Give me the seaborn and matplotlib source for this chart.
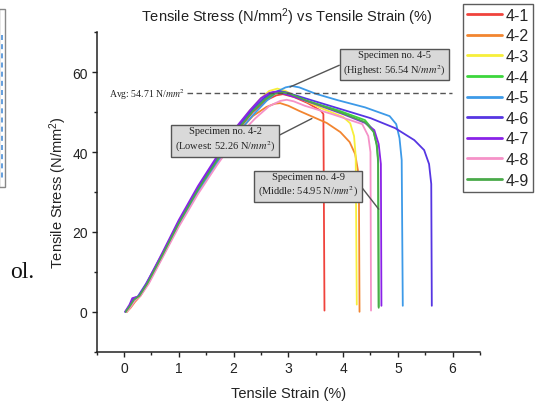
import matplotlib
matplotlib.use("Agg")
import matplotlib.pyplot as plt
import seaborn as sns
import pandas as pd
from matplotlib.ticker import MultipleLocator
from matplotlib.patches import Rectangle
from matplotlib.lines import Line2D

# ---------------- data ----------------
specimens = ["4-1", "4-2", "4-3", "4-4", "4-5", "4-6", "4-7", "4-8", "4-9"]
colors = ["#f0433c", "#f28530", "#f7ef3a", "#3cd63c", "#3d9ae8",
          "#5636e2", "#8a22e8", "#f592c8", "#4aaa4a"]

strain_4_1 = [0.05, 0.12, 0.2, 0.3, 0.45, 0.7, 1.0, 1.35, 1.7, 2.05, 2.35, 2.6, 2.78, 2.9, 3.1, 3.35, 3.6, 3.64, 3.66]
stress_4_1 = [0, 1.5, 3, 4.2, 7.5, 14, 22, 30.5, 38, 45, 50, 53, 54.2, 54.5, 53.8, 52.3, 50.3, 49.5, 0.3]

strain_4_2 = [0.05, 0.12, 0.2, 0.3, 0.45, 0.7, 1.0, 1.35, 1.7, 2.05, 2.35, 2.6, 2.75, 2.85, 3.0, 3.2, 3.45, 3.7, 3.95, 4.12, 4.22, 4.27, 4.29, 4.3]
stress_4_2 = [0, 1, 2.5, 4, 7.3, 13.8, 21.8, 30.2, 37.6, 44.5, 49, 51.3, 52.1, 52.26, 51.6, 50.3, 48.8, 47.3, 45, 42.5, 39.5, 35.5, 28, 0]

strain_4_3 = [0.05, 0.1, 0.18, 0.28, 0.42, 0.7, 1.0, 1.35, 1.7, 2.05, 2.3, 2.5, 2.65, 2.8, 2.95, 3.2, 3.6, 4.0, 4.13, 4.2, 4.23, 4.25]
stress_4_3 = [0, 1.2, 3, 4, 7, 14.5, 22.5, 31, 38.5, 46, 50.5, 53.5, 55.3, 55.9, 55.3, 53.5, 51, 48.8, 47.2, 44, 39, 1.8]

strain_4_4 = [0.03, 0.1, 0.18, 0.28, 0.42, 0.7, 1.0, 1.35, 1.7, 2.05, 2.35, 2.55, 2.72, 2.85, 3.0, 3.3, 3.9, 4.4, 4.55, 4.61, 4.64, 4.65]
stress_4_4 = [0, 1.3, 3, 4, 7, 14.3, 22.3, 30.8, 38.2, 45.5, 50.5, 53.2, 54.8, 55.2, 54.6, 53, 50.5, 48, 45.5, 42, 38, 1.3]

strain_4_5 = [0.03, 0.1, 0.18, 0.28, 0.42, 0.7, 1.0, 1.35, 1.7, 2.05, 2.35, 2.6, 2.8, 2.95, 3.07, 3.2, 3.5, 3.9, 4.4, 4.85, 4.97, 5.03, 5.07, 5.09]
stress_4_5 = [0, 1.3, 3, 4, 6.8, 13.8, 21.8, 30, 37.3, 44.3, 49.2, 52.8, 55.2, 56.2, 56.54, 56.2, 54.6, 53, 51.2, 49, 47, 43.5, 38, 1.5]

strain_4_6 = [0.02, 0.1, 0.17, 0.25, 0.4, 0.7, 1.0, 1.35, 1.7, 2.05, 2.35, 2.55, 2.7, 2.82, 2.95, 3.3, 3.9, 4.5, 4.95, 5.3, 5.48, 5.57, 5.61, 5.62]
stress_4_6 = [0, 1.5, 3.3, 3.8, 7, 14.5, 22.5, 31, 38.5, 45.8, 50.8, 53.5, 54.9, 55.3, 55, 53.5, 51, 48.5, 46, 43, 40.5, 37, 32, 1.5]

strain_4_7 = [0.02, 0.1, 0.15, 0.2, 0.28, 0.4, 0.7, 1.0, 1.35, 1.7, 2.05, 2.3, 2.5, 2.65, 2.75, 2.9, 3.2, 3.6, 4.0, 4.4, 4.57, 4.65, 4.69, 4.7]
stress_4_7 = [0, 1.8, 3.4, 3.6, 3.9, 6.8, 14.8, 23, 31.5, 39, 46.3, 50.5, 53.5, 54.8, 55.1, 54.7, 53.4, 51.5, 49.5, 47.3, 45.5, 42, 37, 1.5]

strain_4_8 = [0.05, 0.12, 0.2, 0.3, 0.45, 0.7, 1.0, 1.35, 1.7, 2.05, 2.4, 2.65, 2.85, 2.97, 3.1, 3.3, 3.8, 4.35, 4.46, 4.5, 4.51]
stress_4_8 = [0, 1.2, 2.8, 4, 7, 13.5, 21.3, 29.5, 36.8, 43.5, 48.5, 51.5, 52.8, 53.1, 52.7, 51.6, 49.5, 47, 44, 40, 0.3]

strain_4_9 = [0.03, 0.1, 0.18, 0.28, 0.42, 0.7, 1.0, 1.35, 1.7, 2.05, 2.35, 2.58, 2.75, 2.9, 3.05, 3.35, 3.9, 4.4, 4.56, 4.62, 4.64, 4.65]
stress_4_9 = [0, 1.3, 3, 4, 7, 14.2, 22.2, 30.6, 38, 45.2, 50.2, 53.2, 54.6, 54.95, 54.5, 52.8, 50.2, 47.5, 45, 41.5, 37, 1.0]

avg_stress = 54.71
xticks = [0, 1, 2, 3, 4, 5, 6]
yticks = [0, 20, 40, 60]

strains = [strain_4_1, strain_4_2, strain_4_3, strain_4_4, strain_4_5,
           strain_4_6, strain_4_7, strain_4_8, strain_4_9]
stresses = [stress_4_1, stress_4_2, stress_4_3, stress_4_4, stress_4_5,
            stress_4_6, stress_4_7, stress_4_8, stress_4_9]

frames = []
for name, s, t in zip(specimens, strains, stresses):
    frames.append(pd.DataFrame({"strain": s, "stress": t, "specimen": name}))
df = pd.concat(frames, ignore_index=True)

# ---------------- style ----------------
sns.set_style("ticks")
plt.rcParams["font.family"] = ["Liberation Sans", "DejaVu Sans"]
plt.rcParams["mathtext.fontset"] = "custom"
plt.rcParams["mathtext.rm"] = "Liberation Sans"
plt.rcParams["mathtext.it"] = "Liberation Sans:italic"

fig = plt.figure(figsize=(5.36, 4.06), dpi=100)
ax = fig.add_axes([0.1804, 0.1313, 0.8955 - 0.1804, 0.918 - 0.1313])

palette = dict(zip(specimens, colors))
sns.lineplot(data=df, x="strain", y="stress", hue="specimen", palette=palette,
             sort=False, estimator=None, linewidth=1.3, ax=ax)

ax.set_xlim(-0.5, 6.5)
ax.set_ylim(-10, 70)
ax.set_xticks(xticks)
ax.set_yticks(yticks)
ax.xaxis.set_minor_locator(MultipleLocator(0.5))
ax.yaxis.set_minor_locator(MultipleLocator(10))
ax.tick_params(which="major", direction="out", length=3.5, width=1, labelsize=10,
               color="#222222", labelcolor="#222222", pad=3)
ax.tick_params(which="minor", direction="out", length=2, width=1, color="#222222")
sns.despine(ax=ax)
for sp in ["left", "bottom"]:
    ax.spines[sp].set_linewidth(1.1)
    ax.spines[sp].set_color("#222222")

ax.set_xlabel("Tensile Strain (%)", fontsize=10.5, color="#222222", labelpad=8)
ax.set_ylabel("Tensile Stress (N/mm$^2$)", fontsize=10.5, color="#222222", labelpad=2)
fig.text(0.535, 0.957, "Tensile Stress (N/mm$^2$) vs Tensile Strain (%)",
         ha="center", va="center", fontsize=10.5, color="#222222")

# legend
handles, labels = ax.get_legend_handles_labels()
if ax.get_legend() is not None:
    ax.get_legend().remove()
for h in handles:
    h.set_linewidth(2)
leg = fig.legend(handles, labels, loc="upper left", bbox_to_anchor=(0.864, 0.988),
                 bbox_transform=fig.transFigure, borderaxespad=0, fontsize=11.5,
                 handlelength=2.2, handletextpad=0.2, borderpad=0.25,
                 labelspacing=0.35, frameon=True, fancybox=False)
leg.get_frame().set_edgecolor("#333333")
leg.get_frame().set_linewidth(1)

# average line and annotations
ax.hlines(avg_stress, 1.15, 5.99, colors="#555555", linestyles=(0, (4, 2.5)), linewidth=1)
ax.text(-0.28, avg_stress, "Avg: 54.71 N/$mm^2$", ha="left", va="center",
        fontsize=7, family="Liberation Serif", math_fontfamily="stix", color="#222222")

box = dict(boxstyle="square,pad=0.35", fc="#d9d9d9", ec="#555555", lw=1)
ann_kw = dict(ha="center", va="center", fontsize=7.5, family="Liberation Serif",
              color="#222222", bbox=box, linespacing=1.3, math_fontfamily="stix")

ax.annotate("Specimen no. 4-5\n(Highest: 56.54 N/$mm^2$)", xy=(3.03, 56.3),
            xytext=(4.94, 62.2),
            arrowprops=dict(arrowstyle="-", color="#555555", lw=1, relpos=(0, 0.5),
                            shrinkA=0, shrinkB=0), **ann_kw)
ax.annotate("Specimen no. 4-2\n(Lowest: 52.26 N/$mm^2$)", xy=(3.43, 48.4),
            xytext=(1.85, 43.1),
            arrowprops=dict(arrowstyle="-", color="#555555", lw=1, relpos=(1, 0.6),
                            shrinkA=0, shrinkB=0), **ann_kw)
ax.annotate("Specimen no. 4-9\n(Middle: 54.95 N/$mm^2$)", xy=(4.65, 25.7),
            xytext=(3.36, 31.7),
            arrowprops=dict(arrowstyle="-", color="#555555", lw=1, relpos=(1, 0.6),
                            shrinkA=0, shrinkB=0), **ann_kw)

# cropped page fragments at the left edge
fig.patches.append(Rectangle((-1 / 536, 1 - 188 / 406), 6 / 536, 178 / 406,
                             transform=fig.transFigure, fill=False,
                             edgecolor="#888888", lw=1))
fig.lines.append(Line2D([1.5 / 536, 1.5 / 536], [1 - 36 / 406, 1 - 182 / 406],
                        transform=fig.transFigure, color="#4a8fd8", lw=1.2,
                        linestyle=(0, (3, 2.5))))
fig.text(10 / 536, 1 - 278 / 406, "ol.", family="Liberation Serif", fontsize=17,
         ha="left", va="baseline", color="#111111")

fig.savefig("out.png", dpi=100)
